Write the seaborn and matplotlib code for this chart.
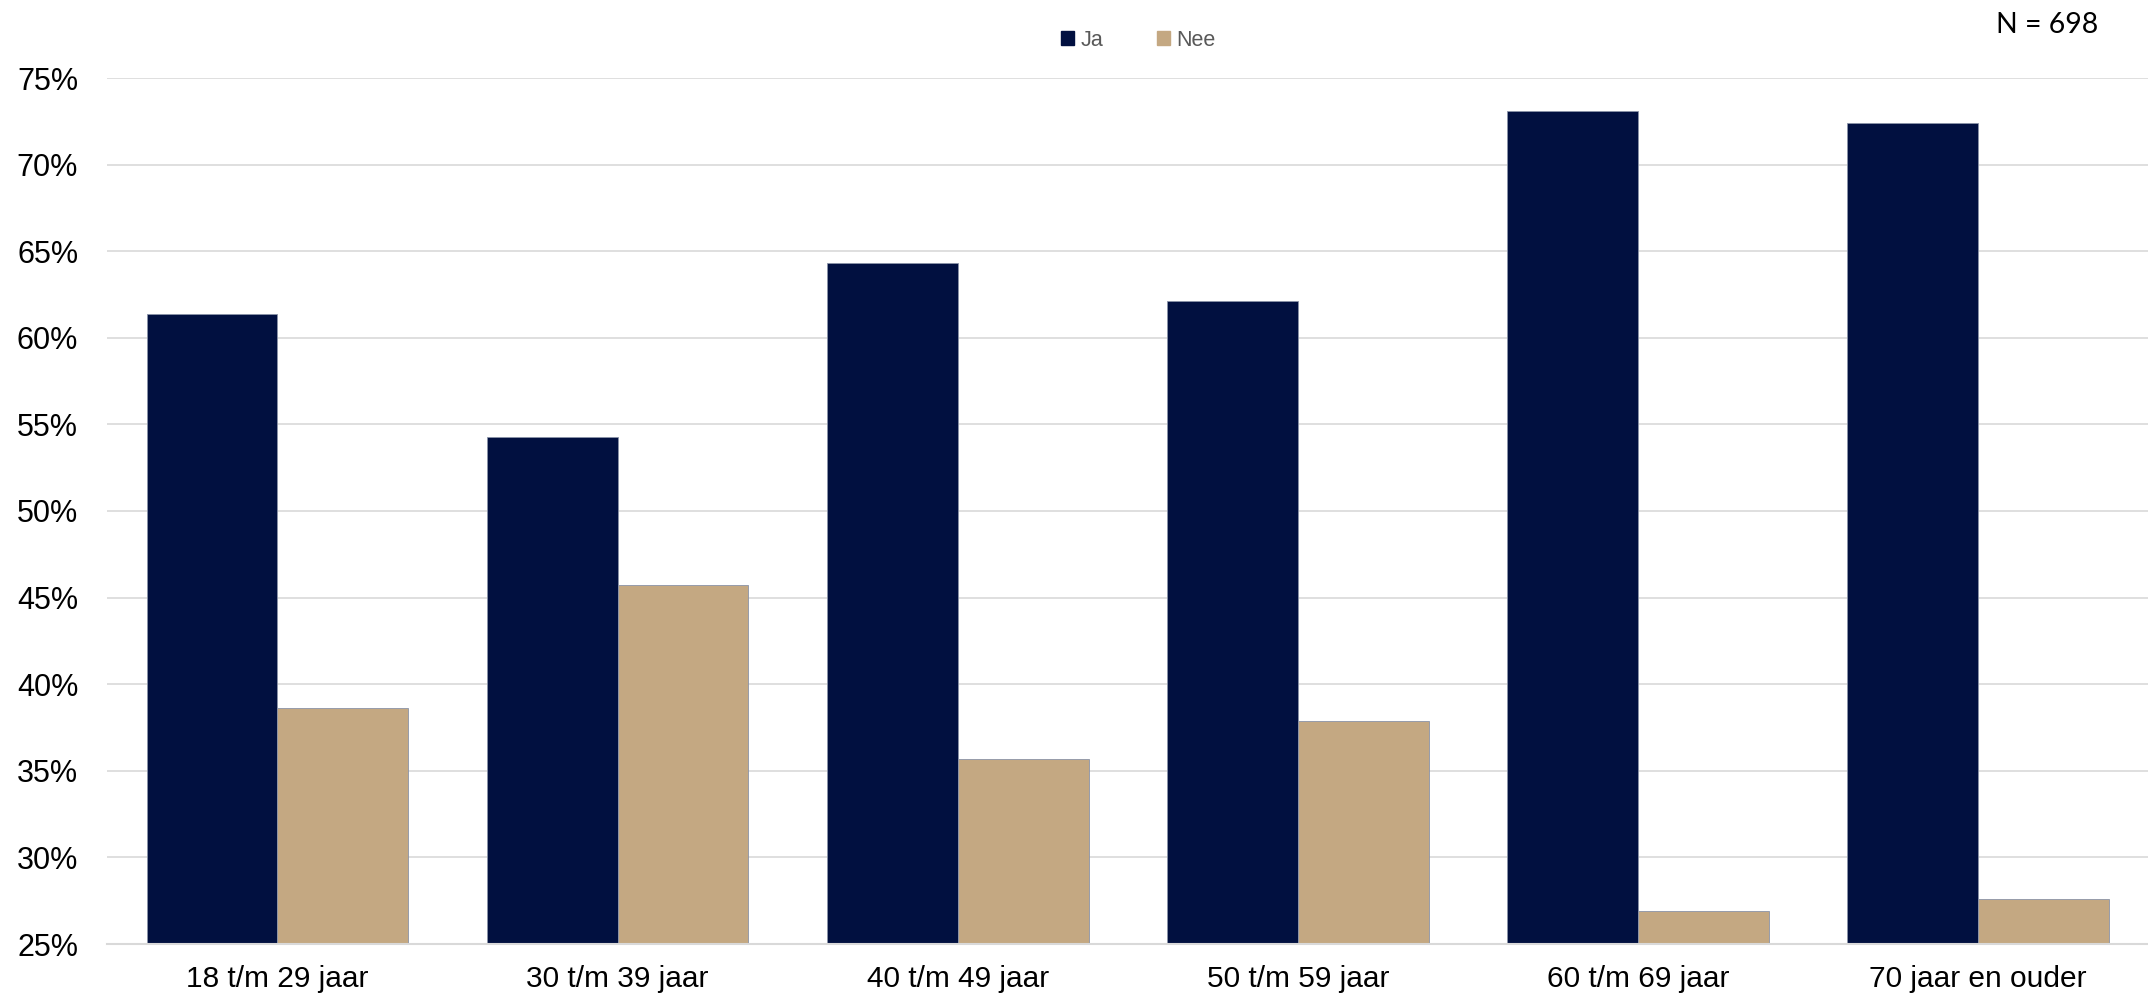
import matplotlib
matplotlib.use('Agg')
import matplotlib.pyplot as plt
import seaborn as sns
import pandas as pd
from matplotlib.ticker import FuncFormatter

# Data
leeftijd = ['18 t/m 29 jaar', '30 t/m 39 jaar', '40 t/m 49 jaar',
            '50 t/m 59 jaar', '60 t/m 69 jaar', '70 jaar en ouder']
ja = [61.4, 54.3, 64.3, 62.1, 73.1, 72.4]
nee = [38.6, 45.7, 35.7, 37.9, 26.9, 27.6]
antwoorden = ['Ja', 'Nee']
kleuren = ['#011040', '#C4A882']
yticks = [25, 30, 35, 40, 45, 50, 55, 60, 65, 70, 75]

df = pd.DataFrame({
    'Leeftijd': leeftijd * 2,
    'Antwoord': ['Ja'] * len(ja) + ['Nee'] * len(nee),
    'Percentage': ja + nee,
})

sns.set_theme(style='white')
plt.rcParams['font.family'] = ['Liberation Sans', 'DejaVu Sans']

fig = plt.figure(figsize=(21.48, 10), dpi=100)
ax = fig.add_axes([0.05, 0.056, 0.95, 0.866])

sns.barplot(data=df, x='Leeftijd', y='Percentage', hue='Antwoord',
            hue_order=antwoorden, palette=kleuren, width=0.77, gap=0,
            saturation=1, edgecolor='#8a93a8', linewidth=0.6, ax=ax,
            legend=False)

ax.set_ylim(25, 75)
ax.set_yticks(yticks)
ax.yaxis.set_major_formatter(FuncFormatter(lambda v, p: f'{v:.0f}%'))
ax.grid(axis='y', color='#D9D9D9', linewidth=1.2)
ax.set_axisbelow(True)
for s in ['top', 'right', 'left']:
    ax.spines[s].set_visible(False)
ax.spines['bottom'].set_color('#D9D9D9')
ax.spines['bottom'].set_linewidth(1.5)
ax.set_xlabel('')
ax.set_ylabel('')
ax.tick_params(axis='both', length=0)
ax.tick_params(axis='y', labelsize=22, pad=21, colors='#000000')
ax.tick_params(axis='x', pad=15, colors='#000000')
for lbl in ax.get_xticklabels():
    lbl.set_fontsize(21.5)

# legend
handles = [plt.Rectangle((0, 0), 1, 1, color=c) for c in kleuren]
fig.legend(handles, antwoorden, loc='center', bbox_to_anchor=(0.53, 0.96),
           ncol=2, frameon=False, fontsize=15.5, handlelength=0.6,
           handleheight=0.6, handletextpad=0.3, columnspacing=2.5,
           labelcolor='#595959')

fig.text(0.977, 0.975, 'N = 698', ha='right', va='center', fontsize=20.5,
         family=['Lato', 'DejaVu Sans'], color='#000000')

fig.savefig('out.png', dpi=100)
